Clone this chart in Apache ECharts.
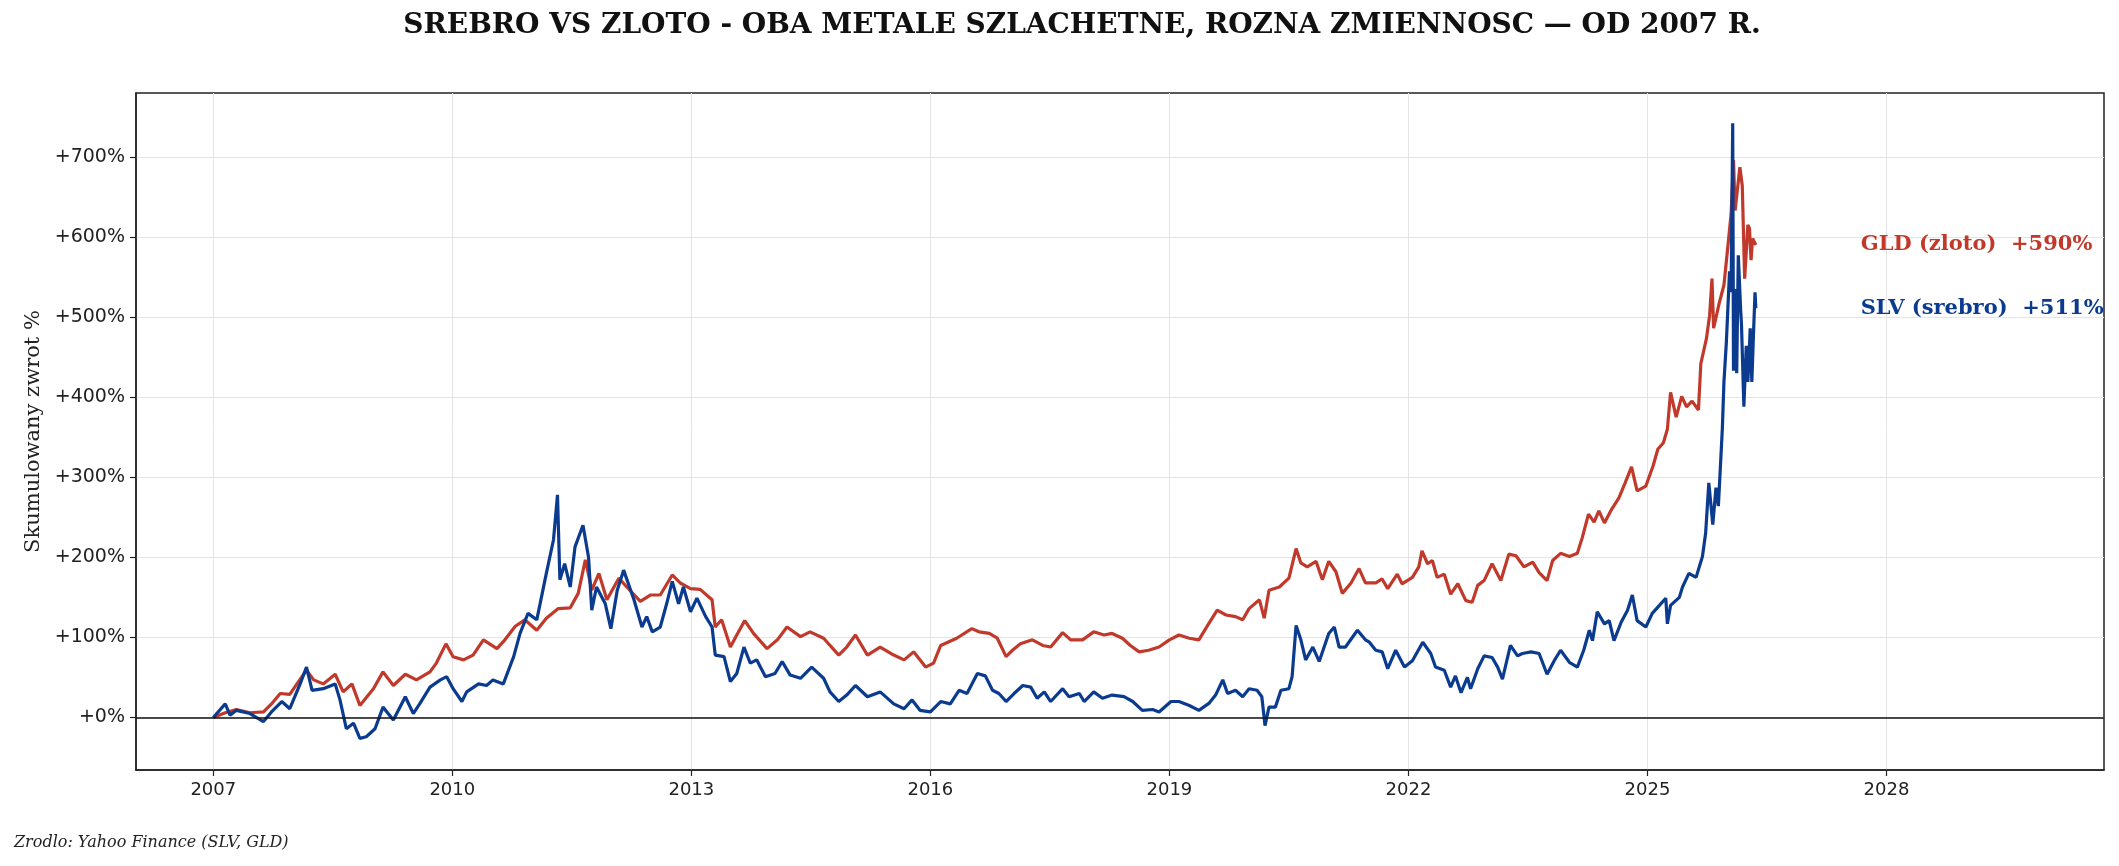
<!DOCTYPE html>
<html>
<head>
<meta charset="utf-8">
<script src="https://cdn.jsdelivr.net/npm/echarts@6/dist/echarts.min.js"></script>
<style>
  html, body { margin: 0; padding: 0; background: #fff; }
  #chart { width: 2119px; height: 866px; }
</style>
</head>
<body>
<div id="chart"></div>
<script>
// GLD (zloto) - cumulative return %
const gldYears = [2007.00, 2007.15, 2007.29, 2007.46, 2007.63, 2007.73, 2007.84, 2007.96, 2008.05, 2008.17, 2008.26, 2008.38, 2008.53, 2008.63, 2008.74, 2008.84, 2009.01, 2009.13, 2009.26, 2009.41, 2009.55, 2009.72, 2009.80, 2009.92, 2010.01, 2010.14, 2010.26, 2010.39, 2010.56, 2010.66, 2010.79, 2010.91, 2011.06, 2011.18, 2011.33, 2011.48, 2011.58, 2011.67, 2011.75, 2011.84, 2011.94, 2012.09, 2012.19, 2012.36, 2012.49, 2012.61, 2012.76, 2012.86, 2012.99, 2013.11, 2013.26, 2013.30, 2013.38, 2013.49, 2013.57, 2013.67, 2013.78, 2013.95, 2014.08, 2014.20, 2014.37, 2014.49, 2014.66, 2014.85, 2014.95, 2015.06, 2015.21, 2015.37, 2015.54, 2015.67, 2015.79, 2015.94, 2016.04, 2016.13, 2016.33, 2016.52, 2016.61, 2016.74, 2016.84, 2016.95, 2017.03, 2017.13, 2017.28, 2017.41, 2017.51, 2017.66, 2017.76, 2017.91, 2018.05, 2018.18, 2018.28, 2018.41, 2018.51, 2018.62, 2018.74, 2018.87, 2019.00, 2019.12, 2019.25, 2019.37, 2019.48, 2019.60, 2019.71, 2019.83, 2019.92, 2020.00, 2020.13, 2020.19, 2020.25, 2020.38, 2020.50, 2020.59, 2020.65, 2020.73, 2020.84, 2020.92, 2021.00, 2021.09, 2021.17, 2021.28, 2021.38, 2021.46, 2021.59, 2021.67, 2021.74, 2021.86, 2021.92, 2022.05, 2022.13, 2022.17, 2022.24, 2022.30, 2022.36, 2022.45, 2022.53, 2022.62, 2022.72, 2022.80, 2022.87, 2022.95, 2023.05, 2023.16, 2023.26, 2023.35, 2023.45, 2023.56, 2023.64, 2023.74, 2023.81, 2023.91, 2024.02, 2024.12, 2024.18, 2024.26, 2024.33, 2024.39, 2024.46, 2024.55, 2024.64, 2024.72, 2024.80, 2024.87, 2024.98, 2025.07, 2025.13, 2025.20, 2025.25, 2025.29, 2025.36, 2025.43, 2025.49, 2025.56, 2025.64, 2025.67, 2025.74, 2025.78, 2025.81, 2025.83, 2025.90, 2025.96, 2026.01, 2026.05, 2026.08, 2026.10, 2026.12, 2026.16, 2026.19, 2026.22, 2026.26, 2026.28, 2026.30, 2026.32, 2026.36];
const gldValues = [0, 6, 10, 6, 7, 17, 30, 29, 42, 59, 47, 42, 54, 32, 42, 15, 36, 57, 40, 54, 47, 57, 68, 92, 76, 72, 78, 97, 86, 97, 114, 122, 109, 124, 136, 137, 155, 197, 159, 180, 147, 174, 163, 145, 153, 153, 178, 168, 161, 160, 147, 113, 122, 88, 103, 121, 105, 86, 97, 113, 101, 107, 99, 78, 88, 103, 78, 88, 78, 72, 82, 63, 68, 90, 99, 111, 107, 105, 99, 76, 84, 92, 97, 90, 88, 106, 97, 97, 107, 103, 105, 99, 90, 82, 84, 88, 97, 103, 99, 97, 115, 134, 128, 126, 122, 136, 147, 124, 159, 163, 174, 211, 193, 188, 195, 172, 195, 182, 155, 168, 186, 168, 168, 173, 161, 179, 167, 175, 188, 208, 192, 196, 175, 179, 154, 167, 146, 144, 165, 171, 192, 171, 204, 202, 188, 194, 181, 171, 196, 205, 201, 205, 224, 254, 244, 258, 243, 260, 274, 293, 313, 283, 289, 314, 335, 343, 360, 406, 375, 401, 388, 395, 384, 442, 473, 502, 548, 486, 517, 540, 589, 629, 696, 633, 651, 687, 664, 548, 615, 611, 571, 598, 590];

// SLV (srebro) - cumulative return %
const slvYears = [2007.00, 2007.15, 2007.21, 2007.29, 2007.46, 2007.63, 2007.73, 2007.86, 2007.96, 2008.09, 2008.17, 2008.24, 2008.38, 2008.53, 2008.59, 2008.67, 2008.76, 2008.84, 2008.92, 2009.03, 2009.13, 2009.26, 2009.41, 2009.51, 2009.59, 2009.72, 2009.85, 2009.93, 2010.01, 2010.12, 2010.18, 2010.33, 2010.43, 2010.51, 2010.64, 2010.77, 2010.85, 2010.95, 2011.06, 2011.18, 2011.27, 2011.32, 2011.35, 2011.41, 2011.48, 2011.54, 2011.64, 2011.71, 2011.75, 2011.81, 2011.92, 2011.99, 2012.07, 2012.15, 2012.28, 2012.38, 2012.44, 2012.51, 2012.61, 2012.69, 2012.76, 2012.84, 2012.90, 2012.99, 2013.07, 2013.18, 2013.26, 2013.30, 2013.41, 2013.49, 2013.57, 2013.66, 2013.74, 2013.82, 2013.93, 2014.05, 2014.14, 2014.24, 2014.37, 2014.51, 2014.66, 2014.74, 2014.85, 2014.95, 2015.06, 2015.21, 2015.37, 2015.54, 2015.67, 2015.77, 2015.87, 2016.00, 2016.13, 2016.25, 2016.36, 2016.46, 2016.59, 2016.69, 2016.78, 2016.86, 2016.95, 2017.05, 2017.16, 2017.26, 2017.34, 2017.43, 2017.51, 2017.66, 2017.74, 2017.87, 2017.93, 2018.05, 2018.16, 2018.28, 2018.43, 2018.54, 2018.66, 2018.79, 2018.87, 2019.02, 2019.12, 2019.25, 2019.37, 2019.50, 2019.58, 2019.67, 2019.73, 2019.83, 2019.92, 2020.00, 2020.10, 2020.16, 2020.20, 2020.25, 2020.33, 2020.40, 2020.50, 2020.54, 2020.59, 2020.65, 2020.71, 2020.80, 2020.88, 2021.00, 2021.07, 2021.13, 2021.21, 2021.36, 2021.46, 2021.51, 2021.59, 2021.67, 2021.74, 2021.84, 2021.95, 2022.05, 2022.18, 2022.28, 2022.34, 2022.45, 2022.53, 2022.59, 2022.66, 2022.74, 2022.78, 2022.87, 2022.95, 2023.05, 2023.12, 2023.18, 2023.28, 2023.37, 2023.43, 2023.54, 2023.64, 2023.74, 2023.83, 2023.91, 2024.02, 2024.12, 2024.20, 2024.27, 2024.31, 2024.37, 2024.46, 2024.52, 2024.58, 2024.67, 2024.75, 2024.81, 2024.87, 2024.98, 2025.06, 2025.15, 2025.23, 2025.25, 2025.29, 2025.40, 2025.44, 2025.52, 2025.61, 2025.69, 2025.73, 2025.77, 2025.82, 2025.86, 2025.89, 2025.92, 2025.94, 2025.96, 2025.99, 2026.03, 2026.05, 2026.07, 2026.08, 2026.10, 2026.12, 2026.14, 2026.17, 2026.18, 2026.21, 2026.24, 2026.26, 2026.29, 2026.31, 2026.33, 2026.35, 2026.36];
const slvValues = [0, 17, 3, 9, 5, -5, 7, 20, 11, 42, 63, 34, 36, 42, 22, -14, -7, -26, -24, -14, 13, -3, 26, 5, 17, 38, 47, 51, 36, 20, 32, 42, 40, 47, 42, 76, 105, 130, 122, 180, 222, 278, 172, 192, 163, 213, 240, 200, 134, 163, 142, 111, 159, 184, 147, 113, 126, 107, 113, 142, 170, 142, 163, 132, 149, 126, 113, 78, 76, 45, 55, 88, 68, 72, 51, 55, 70, 53, 49, 63, 49, 32, 20, 28, 40, 26, 32, 17, 11, 22, 9, 7, 20, 17, 34, 30, 55, 52, 34, 30, 20, 30, 40, 38, 24, 32, 20, 36, 26, 30, 20, 32, 24, 28, 26, 20, 9, 10, 7, 20, 20, 15, 9, 18, 28, 47, 30, 34, 26, 36, 34, 26, -10, 13, 13, 34, 36, 51, 115, 97, 72, 88, 70, 105, 113, 88, 88, 109, 97, 94, 84, 82, 61, 84, 63, 71, 94, 80, 63, 59, 38, 52, 31, 50, 36, 61, 77, 75, 63, 48, 90, 77, 80, 82, 80, 54, 71, 84, 69, 63, 84, 109, 96, 132, 117, 121, 96, 119, 134, 153, 121, 113, 130, 140, 149, 117, 140, 150, 163, 180, 175, 201, 230, 293, 241, 287, 264, 322, 361, 419, 468, 557, 531, 742, 433, 535, 430, 577, 508, 491, 388, 464, 419, 486, 419, 477, 531, 511];

const xTicks = [2007, 2010, 2013, 2016, 2019, 2022, 2025, 2028];
const yTicks = [0, 100, 200, 300, 400, 500, 600, 700];

const gldColor = '#c0392b';
const slvColor = '#0b3b8f';
const labelX = 2027.67;

const zip = (xs, ys) => xs.map((x, i) => [x, ys[i]]);
const lastOf = arr => arr[arr.length - 1];

const chart = echarts.init(document.getElementById('chart'));

const endLabel = (text, color, value) => ({
  symbol: 'circle',
  symbolSize: 1,
  silent: true,
  itemStyle: { color: 'rgba(0,0,0,0)' },
  label: {
    show: true,
    position: 'right',
    distance: 0,
    color: color,
    fontFamily: 'DejaVu Serif',
    fontWeight: 'bold',
    fontSize: 21,
    formatter: text + '  +' + value + '%'
  },
  data: [{ coord: [labelX, value] }]
});

const option = {
  animation: false,
  backgroundColor: '#fff',
  grid: {
    left: 136, right: 15, top: 93, bottom: 96,
    show: true,
    borderColor: '#222',
    borderWidth: 1.5,
    backgroundColor: 'transparent'
  },
  xAxis: {
    type: 'value',
    min: 2006.03,
    max: 2030.73,
    axisLine: { show: true, onZero: false, lineStyle: { color: '#222', width: 1.5 } },
    axisTick: { show: true, customValues: xTicks, length: 6, lineStyle: { color: '#222', width: 1.2 } },
    axisLabel: {
      customValues: xTicks,
      color: '#222',
      fontFamily: 'DejaVu Sans',
      fontSize: 18,
      margin: 11,
      formatter: v => String(v)
    },
    splitLine: { show: true, lineStyle: { color: '#e4e4e4', width: 1 } }
  },
  yAxis: {
    type: 'value',
    min: -65.5,
    max: 779.7,
    name: 'Skumulowany zwrot %',
    nameLocation: 'middle',
    nameGap: 91,
    nameTextStyle: { fontFamily: 'DejaVu Serif', fontSize: 21, color: '#222' },
    axisLine: { show: true, lineStyle: { color: '#222', width: 1.5 } },
    axisTick: { show: true, customValues: yTicks, length: 6, lineStyle: { color: '#222', width: 1.2 } },
    axisLabel: {
      customValues: yTicks,
      color: '#222',
      fontFamily: 'DejaVu Sans',
      fontSize: 19,
      margin: 11,
      formatter: v => '+' + v + '%'
    },
    splitLine: { show: true, lineStyle: { color: '#e4e4e4', width: 1 } }
  },
  series: [
    {
      name: 'GLD (zloto)',
      type: 'line',
      data: zip(gldYears, gldValues),
      showSymbol: false,
      symbol: 'none',
      lineStyle: { color: gldColor, width: 3.2 },
      itemStyle: { color: gldColor },
      z: 3,
      markLine: {
        silent: true,
        symbol: 'none',
        label: { show: false },
        lineStyle: { color: '#111', width: 1.5, type: 'solid' },
        data: [{ yAxis: 0 }]
      },
      markPoint: endLabel('GLD (zloto)', gldColor, lastOf(gldValues))
    },
    {
      name: 'SLV (srebro)',
      type: 'line',
      data: zip(slvYears, slvValues),
      showSymbol: false,
      symbol: 'none',
      lineStyle: { color: slvColor, width: 3.2 },
      itemStyle: { color: slvColor },
      z: 4,
      markPoint: endLabel('SLV (srebro)', slvColor, lastOf(slvValues))
    }
  ],
  graphic: [
    {
      type: 'text',
      x: 1082, y: 26,
      style: {
        text: 'SREBRO VS ZLOTO - OBA METALE SZLACHETNE, ROZNA ZMIENNOSC \u2014 OD 2007 R.',
        fontFamily: 'DejaVu Serif',
        fontWeight: 'bold',
        fontSize: 28,
        fill: '#111',
        textAlign: 'center',
        textVerticalAlign: 'middle'
      }
    },
    {
      type: 'text',
      x: 14, y: 843,
      style: {
        text: 'Zrodlo: Yahoo Finance (SLV, GLD)',
        fontFamily: 'DejaVu Serif',
        fontStyle: 'italic',
        fontSize: 16,
        fill: '#222',
        textAlign: 'left',
        textVerticalAlign: 'middle'
      }
    }
  ]
};

chart.setOption(option);
</script>
</body>
</html>
